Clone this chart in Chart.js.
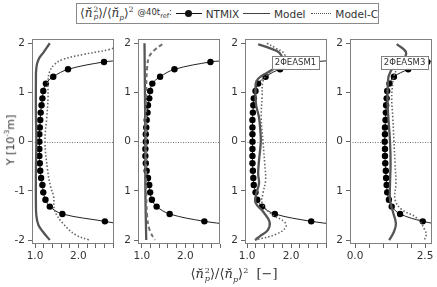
<!DOCTYPE html>
<html>
<head>
<meta charset="utf-8">
<script src="https://cdn.jsdelivr.net/npm/chart.js@4"></script>
<style>
  html, body { margin: 0; padding: 0; background: #fff; }
  #wrap { position: relative; width: 437px; height: 287px; overflow: hidden; font-family: "DejaVu Sans", sans-serif; color: #333; }
  canvas { position: absolute; }
  #legend {
    position: absolute; left: 76px; top: 3px; width: 303px; height: 21px;
    border: 1px solid #8a8a8a; background: #fff; box-sizing: border-box;
    display: flex; align-items: center; font-size: 10.5px; white-space: nowrap;
  }
  .m { font-family: "DejaVu Serif", serif; font-size: 12px; margin-left: 3px; }
  .m i { font-style: italic; }
  .ss { display: inline-flex; flex-direction: column; font-size: 0.62em; line-height: 0.95; vertical-align: middle; margin-left: 1px; }
  .m sub, .m sup { font-size: 0.62em; }
  .at { font-size: 8.5px; margin-left: 4px; }
  .at sub { font-size: 6.5px; }
  .sw { display: inline-block; position: relative; height: 0; vertical-align: middle; }
  .sw.nt { width: 26px; border-top: 1.5px solid #111; margin-left: 4px; }
  .sw.nt::after { content: ''; position: absolute; left: 9.5px; top: -4.5px; width: 7px; height: 7px; border-radius: 50%; background: #111; }
  .sw.mo { width: 27px; border-top: 1.6px solid #444; margin-left: 4px; }
  .sw.mc { width: 21px; border-top: 1.6px dotted #555; margin-left: 5px; }
  .lt { margin-left: 4px; }
  #ytitle { position: absolute; left: 10px; top: 140px; transform: translate(-50%, -50%) rotate(-90deg); font-size: 11px; white-space: nowrap; }
  #xtitle { position: absolute; left: 234px; top: 275px; transform: translate(-50%, -50%); font-family: "DejaVu Serif", serif; font-size: 13px; white-space: nowrap; }
  #xtitle i { font-style: italic; }
  #xtitle sub, #xtitle sup { font-size: 0.62em; }
</style>
</head>
<body>
<div id="wrap">
  <canvas id="p1"></canvas>
  <canvas id="p2"></canvas>
  <canvas id="p3"></canvas>
  <canvas id="p4"></canvas>
  <div id="legend">
    <span class="m">⟨<i>n̆</i><span class="ss"><span>2</span><span><i>p</i></span></span>⟩/⟨<i>n̆</i><sub><i>p</i></sub>⟩<sup>2</sup></span>
    <span class="at">@40t<sub>ref</sub>:</span>
    <span class="sw nt"></span><span class="lt">NTMIX</span>
    <span class="sw mo"></span><span class="lt">Model</span>
    <span class="sw mc"></span><span class="lt">Model-C</span>
  </div>
  <div id="ytitle">Y [10<sup style="font-size:7px">-3</sup>m]</div>
  <div id="xtitle">⟨<i>n̆</i><span class="ss" style="font-size:0.62em"><span>2</span><span><i>p</i></span></span>⟩/⟨<i>n̆</i><sub><i>p</i></sub>⟩<sup>2</sup>&nbsp; [−]</div>
</div>
<script>
// ---- data (Y in 10^-3 m) ----
const Y_NT = [1.62, 1.47, 1.32, 1.18, 1.03, 0.88, 0.74, 0.59, 0.44, 0.29, 0.15, 0,
              -0.15, -0.29, -0.44, -0.59, -0.74, -0.88, -1.03, -1.18, -1.32, -1.47, -1.62];

// NTMIX ratio per panel, same order as Y_NT
const P1_NT = [2.59, 1.76, 1.42, 1.25, 1.19, 1.17, 1.15, 1.13, 1.12, 1.11, 1.10, 1.10,
               1.10, 1.10, 1.11, 1.12, 1.14, 1.17, 1.19, 1.24, 1.34, 1.63, 2.61];
const P2_NT = [2.58, 1.75, 1.42, 1.24, 1.19, 1.17, 1.14, 1.13, 1.11, 1.10, 1.09, 1.09,
               1.08, 1.08, 1.09, 1.11, 1.14, 1.17, 1.19, 1.23, 1.34, 1.64, 2.44];
const P3_NT = [2.55, 1.75, 1.42, 1.25, 1.19, 1.15, 1.14, 1.13, 1.12, 1.12, 1.12, 1.12,
               1.12, 1.12, 1.12, 1.13, 1.14, 1.15, 1.19, 1.23, 1.34, 1.63, 2.46];
const P4_NT = [2.58, 1.90, 1.39, 1.23, 1.15, 1.13, 1.11, 1.10, 1.09, 1.07, 1.07, 1.06,
               1.07, 1.07, 1.08, 1.10, 1.11, 1.13, 1.15, 1.21, 1.31, 1.61, 2.42];
// NTMIX line running on past the last markers (top end, bottom end)
const NT_TAIL_Y = [1.65, -1.68];
const NT_TAIL_X = [3.0, 3.0];

// Model (solid)
const P1_MODEL_X = [1.34, 1.20, 1.08, 1.03, 1.02, 1.02, 1.03, 1.02, 1.02, 1.03, 1.08, 1.20, 1.34];
const P1_MODEL_Y = [2.0, 1.82, 1.67, 1.5, 1.2, 0.6, 0, -0.6, -1.2, -1.5, -1.7, -1.85, -2.0];
const P2_MODEL_X = [1.06, 1.07, 1.08, 1.08, 1.10];
const P2_MODEL_Y = [2.0, 1.0, 0, -1.0, -2.0];
const P3_MODEL_X = [1.25, 1.51, 1.74, 1.78, 1.55, 1.32, 1.21, 1.19, 1.20, 1.27, 1.30, 1.31,
                    1.27, 1.25, 1.27, 1.21, 1.19, 1.36, 1.51, 1.47, 1.32, 1.18];
const P3_MODEL_Y = [1.98, 1.9, 1.8, 1.62, 1.45, 1.33, 1.23, 1.03, 0.76, 0.49, 0.22, 0,
                    -0.38, -0.65, -0.85, -1.05, -1.24, -1.42, -1.63, -1.8, -1.9, -2.0];
const P4_MODEL_X = [1.49, 1.82, 1.70, 1.35, 1.25, 1.19, 1.16, 1.19, 1.25, 1.27, 1.25, 1.25,
                    1.35, 1.46, 1.39, 1.22];
const P4_MODEL_Y = [1.98, 1.82, 1.65, 1.5, 1.4, 1.3, 0.88, 0.49, 0, -0.45, -0.85, -1.18,
                    -1.42, -1.66, -1.83, -2.0];

// Model-C (dotted)
const P1_MC_X = [2.95, 2.70, 2.10, 1.64, 1.45, 1.34, 1.30, 1.30, 1.27, 1.23, 1.29, 1.36,
                 1.43, 1.45, 1.64, 1.95, 2.25];
const P1_MC_Y = [1.95, 1.87, 1.77, 1.67, 1.57, 1.43, 1.23, 0.9, 0.49, 0, -0.58, -0.92,
                 -1.12, -1.39, -1.66, -1.9, -2.0];
const P2_MC_X = [1.47, 1.30, 1.17, 1.12, 1.10, 1.10, 1.10, 1.12, 1.18, 1.30];
const P2_MC_Y = [1.98, 1.87, 1.73, 1.5, 1.0, 0, -1.0, -1.5, -1.8, -2.0];
const P3_MC_X = [1.45, 1.65, 1.85, 1.80, 1.47, 1.36, 1.34, 1.32, 1.36, 1.40, 1.42, 1.36,
                 1.34, 1.55, 1.85, 1.88, 1.66, 1.18];
const P3_MC_Y = [2.0, 1.9, 1.78, 1.6, 1.37, 1.23, 0.9, 0.49, 0, -0.45, -0.79, -1.05,
                 -1.25, -1.47, -1.63, -1.74, -1.88, -2.0];
const P4_MC_X = [1.70, 1.50, 1.40, 1.35, 1.31, 1.35, 1.39, 1.43, 1.46, 1.43, 1.67, 2.20,
                 2.50, 2.54, 2.45];
const P4_MC_Y = [1.6, 1.47, 1.35, 1.2, 0.88, 0.49, 0, -0.45, -0.85, -1.18, -1.38, -1.55,
                 -1.8, -1.93, -2.0];

// axes
const Y_TICKS = [-2, -1, 0, 1, 2];
const X_RANGES = [[0.93, 2.82], [0.91, 2.80], [0.95, 2.82], [-0.18, 2.75]];
const X_STEPS = [0.2, 0.2, 0.2, 0.5];
const X_TICK_LABELS = [[1.0, 2.0], [1.0, 2.0], [1.0, 2.0], [0.0, 2.5]];
const PANEL_LABELS = ['', '', '2ΦEASM1', '2ΦEASM3'];
const LABEL_POS = [null, null, [2.10, 1.61], [1.77, 1.61]];

// layout of each plot box (px)
const BOX_LEFT = [32, 138, 245, 350];
const BOX_W = 82;
const BOX_TOP = 37, BOX_BOTTOM = 244;
const CANVAS_TOP = 30, CANVAS_H = 245;
const Y_AXIS_W = 28, PAD_R = 4;

function pts(xs, ys) {
    return xs.map((x, i) => ({ x: x, y: ys[i] }));
}

// frame, zero line and the case label
const framePlugin = {
    id: 'frame',
    beforeDatasetsDraw(chart) {
        const { ctx, chartArea } = chart;
        const y0 = chart.scales.y.getPixelForValue(0);
        ctx.save();
        ctx.strokeStyle = '#777';
        ctx.lineWidth = 1;
        ctx.setLineDash([1, 1.5]);
        ctx.beginPath();
        ctx.moveTo(chartArea.left, Math.round(y0) + 0.5);
        ctx.lineTo(chartArea.right, Math.round(y0) + 0.5);
        ctx.stroke();
        ctx.restore();
    },
    afterDatasetsDraw(chart, args, opts) {
        const { ctx, chartArea } = chart;
        ctx.save();
        if (opts.text) {
            const cx = chart.scales.x.getPixelForValue(opts.pos[0]);
            const cy = chart.scales.y.getPixelForValue(opts.pos[1]);
            ctx.font = '8.5px "DejaVu Sans", sans-serif';
            const w = ctx.measureText(opts.text).width + 6;
            const h = 13;
            ctx.fillStyle = '#fff';
            ctx.fillRect(cx - w / 2, cy - h / 2, w, h);
            ctx.strokeStyle = '#808080';
            ctx.lineWidth = 1;
            ctx.strokeRect(Math.round(cx - w / 2) + 0.5, Math.round(cy - h / 2) + 0.5, Math.round(w), h);
            ctx.fillStyle = '#333';
            ctx.textAlign = 'center';
            ctx.textBaseline = 'middle';
            ctx.fillText(opts.text, cx, cy + 0.5);
        }
        ctx.strokeStyle = '#808080';
        ctx.lineWidth = 1;
        ctx.strokeRect(Math.round(chartArea.left) + 0.5, Math.round(chartArea.top) + 0.5,
            Math.round(chartArea.right - chartArea.left) - 1, Math.round(chartArea.bottom - chartArea.top) - 1);
        ctx.restore();
    }
};

const PANELS = [
    { nt: P1_NT, mx: P1_MODEL_X, my: P1_MODEL_Y, cx: P1_MC_X, cy: P1_MC_Y, dash: [1.5, 2] },
    { nt: P2_NT, mx: P2_MODEL_X, my: P2_MODEL_Y, cx: P2_MC_X, cy: P2_MC_Y, dash: [4, 3] },
    { nt: P3_NT, mx: P3_MODEL_X, my: P3_MODEL_Y, cx: P3_MC_X, cy: P3_MC_Y, dash: [1.5, 2] },
    { nt: P4_NT, mx: P4_MODEL_X, my: P4_MODEL_Y, cx: P4_MC_X, cy: P4_MC_Y, dash: [1.5, 2] }
];

function makePanel(i) {
    const p = PANELS[i];
    const canvas = document.getElementById('p' + (i + 1));
    const w = Y_AXIS_W + BOX_W + PAD_R;
    canvas.style.left = (BOX_LEFT[i] - Y_AXIS_W) + 'px';
    canvas.style.top = CANVAS_TOP + 'px';
    canvas.width = w;
    canvas.height = CANVAS_H;
    canvas.style.width = w + 'px';
    canvas.style.height = CANVAS_H + 'px';

    const ntData = [{ x: NT_TAIL_X[0], y: NT_TAIL_Y[0] }]
        .concat(pts(p.nt, Y_NT))
        .concat([{ x: NT_TAIL_X[1], y: NT_TAIL_Y[1] }]);
    const last = ntData.length - 1;

    const labelsX = X_TICK_LABELS[i];

    return new Chart(canvas, {
        type: 'scatter',
        data: {
            datasets: [
                {
                    label: 'Model-C',
                    data: pts(p.cx, p.cy),
                    showLine: true,
                    borderColor: i === 1 ? '#707070' : '#666',
                    borderWidth: i === 1 ? 2 : 1.6,
                    borderDash: p.dash,
                    pointRadius: 0,
                    tension: 0.4
                },
                {
                    label: 'Model',
                    data: pts(p.mx, p.my),
                    showLine: true,
                    borderColor: '#555',
                    borderWidth: 2.3,
                    pointRadius: 0,
                    tension: 0.4
                },
                {
                    label: 'NTMIX',
                    data: ntData,
                    showLine: true,
                    borderColor: '#222',
                    borderWidth: 1,
                    backgroundColor: '#000',
                    pointBorderWidth: 0,
                    pointRadius: ctx => (ctx.dataIndex === 0 || ctx.dataIndex === last) ? 0 : 3.2,
                    tension: 0.35
                }
            ]
        },
        options: {
            responsive: false,
            animation: false,
            events: [],
            layout: { padding: { top: BOX_TOP - CANVAS_TOP, right: PAD_R, left: 0, bottom: 0 } },
            plugins: {
                legend: { display: false },
                tooltip: { enabled: false },
                frame: { text: PANEL_LABELS[i], pos: LABEL_POS[i] }
            },
            scales: {
                x: {
                    type: 'linear',
                    min: X_RANGES[i][0],
                    max: X_RANGES[i][1],
                    afterFit: s => { s.height = CANVAS_H - (BOX_BOTTOM - CANVAS_TOP); },
                    border: { display: false },
                    grid: { drawOnChartArea: false, drawTicks: true, tickLength: 4, color: '#666', tickWidth: 1 },
                    ticks: {
                        stepSize: X_STEPS[i],
                        includeBounds: false,
                        autoSkip: false,
                        maxRotation: 0,
                        padding: 2,
                        color: '#333',
                        font: { family: '"DejaVu Sans", sans-serif', size: 10.5 },
                        callback: v => labelsX.some(t => Math.abs(t - v) < 1e-6) ? v.toFixed(1) : ''
                    }
                },
                y: {
                    type: 'linear',
                    min: -2.08,
                    max: 2.08,
                    afterFit: s => { s.width = Y_AXIS_W; },
                    afterBuildTicks: s => { s.ticks = Y_TICKS.map(v => ({ value: v })); },
                    border: { display: false },
                    grid: { drawOnChartArea: false, drawTicks: true, tickLength: 4, color: '#666' },
                    ticks: {
                        padding: 3,
                        color: '#333',
                        font: { family: '"DejaVu Sans", sans-serif', size: 10.5 },
                        callback: v => i === 0 ? String(v) : String(Math.abs(v))
                    }
                }
            }
        },
        plugins: [framePlugin]
    });
}

for (let i = 0; i < 4; i++) makePanel(i);
</script>
</body>
</html>
